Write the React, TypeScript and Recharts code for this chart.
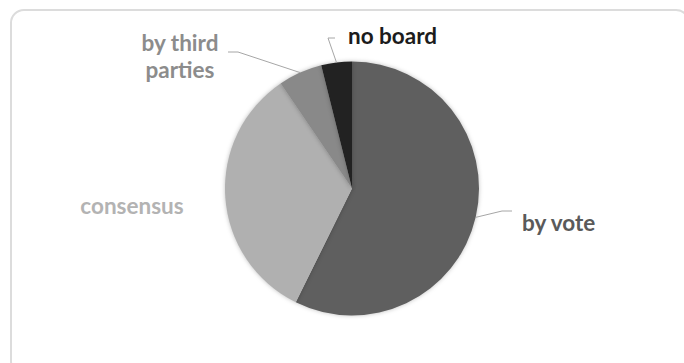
import React from 'react';
import { PieChart, Pie, Cell } from 'recharts';

const categories = ['by vote', 'consensus', 'by third parties', 'no board'];
const shares = [57.3, 33.2, 5.6, 3.9];
const sliceColors = ['#5f5f5f', '#b0b0b0', '#898989', '#222222'];
const labelColors = ['#5a5a5a', '#b3b3b3', '#8c8c8c', '#1c1c1c'];

const data = categories.map((name, i) => ({ name, value: shares[i] }));

// manual label placement (Excel style), offsets relative to the pie centre
const labelLayout = [
    { elbow: [150, 22.5], end: [160, 22.5], text: [170, 42.5], anchor: 'start', lines: ['by vote'] },
    { elbow: null, end: null, text: [-220, 25], anchor: 'middle', lines: ['consensus'] },
    { elbow: [-114, -136.5], end: [-124, -136.5], text: [-172, -137.5], anchor: 'middle', lines: ['by third', 'parties'] },
    { elbow: [-24, -150.5], end: [-17, -150.5], text: [-4, -144.5], anchor: 'start', lines: ['no board'] },
];

const RADIAN = Math.PI / 180;

const renderLabel = (props: any) => {
    const { cx, cy, midAngle, outerRadius, index } = props;
    const layout = labelLayout[index];
    if (!layout) return null;
    const sx = cx + outerRadius * Math.cos(-midAngle * RADIAN);
    const sy = cy + outerRadius * Math.sin(-midAngle * RADIAN);
    return (
        <g>
            {layout.elbow && layout.end && (
                <polyline
                    points={`${sx},${sy} ${cx + layout.elbow[0]},${cy + layout.elbow[1]} ${cx + layout.end[0]},${cy + layout.end[1]}`}
                    fill="none"
                    stroke="#a6a6a6"
                    strokeWidth={1}
                />
            )}
            <text
                x={cx + layout.text[0]}
                y={cy + layout.text[1]}
                textAnchor={layout.anchor}
                fill={labelColors[index]}
                fontFamily="Lato, sans-serif"
                fontWeight={700}
                fontSize={22.5}
            >
                {layout.lines.map((line, i) => (
                    <tspan key={line} x={cx + layout.text[0]} dy={i === 0 ? 0 : 27}>
                        {line}
                    </tspan>
                ))}
            </text>
        </g>
    );
};

export default function App() {
    return (
        <div
            style={{
                position: 'fixed',
                left: 0,
                top: 0,
                width: 684,
                height: 363,
                overflow: 'hidden',
                background: '#ffffff',
            }}
        >
            <div
                style={{
                    position: 'absolute',
                    left: 10,
                    top: 9,
                    width: 680,
                    height: 366,
                    border: '2px solid #dcdcdc',
                    borderRadius: 14,
                    boxSizing: 'border-box',
                }}
            />
            <div style={{ position: 'absolute', left: 0, top: 0 }}>
                <PieChart width={684} height={363} margin={{ top: 0, right: 0, bottom: 0, left: 0 }}>
                    <Pie
                        data={data}
                        dataKey="value"
                        nameKey="name"
                        cx={352}
                        cy={188.5}
                        outerRadius={127}
                        startAngle={90}
                        endAngle={-270}
                        stroke="none"
                        labelLine={false}
                        label={renderLabel}
                        isAnimationActive={false}
                        style={{ filter: 'drop-shadow(0px 0px 2px rgba(0,0,0,0.25))' }}
                    >
                        {data.map((_entry, index) => (
                            <Cell key={`cell-${index}`} fill={sliceColors[index]} />
                        ))}
                    </Pie>
                </PieChart>
            </div>
        </div>
    );
}
